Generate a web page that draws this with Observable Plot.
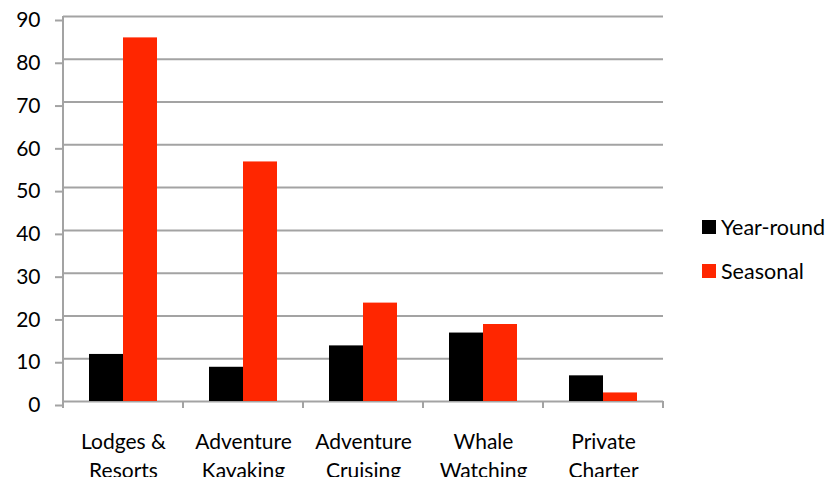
<!DOCTYPE html>
<html><head><meta charset="utf-8">
<script src="https://cdn.jsdelivr.net/npm/d3@7"></script>
<script src="https://cdn.jsdelivr.net/npm/@observablehq/plot@0.6"></script>
<style>
body{margin:0;background:#fff;font-family:Lato,"Open Sans",sans-serif;}
#wrap{position:relative;width:830px;height:477px;overflow:hidden;}
.legend{position:absolute;left:702px;top:0;font-size:21.5px;color:#000;font-family:Lato,sans-serif}
.legend .item{position:absolute;left:0;display:flex;align-items:center;white-space:nowrap;line-height:24px;height:24px}
.legend .sw{width:14px;height:14px;margin-right:5px;flex:none}
</style></head><body><div id="wrap"></div>
<script>
const categories = ["Lodges & Resorts","Adventure Kayaking","Adventure Cruising","Whale Watching","Private Charter"];
const categoryLabels = ["Lodges &\nResorts","Adventure\nKayaking","Adventure\nCruising","Whale\nWatching","Private\nCharter"];
const seriesNames = ["Year-round","Seasonal"];
const yearRound = [11,8,13,16,6];
const seasonal = [85,56,23,18,2];
const yTicks = [0,10,20,30,40,50,60,70,80,90];
const seriesColors = ["#000000","#ff2600"];

const data = [];
categories.forEach((c,i)=>{
  data.push({category:c, series:seriesNames[0], value:yearRound[i]});
  data.push({category:c, series:seriesNames[1], value:seasonal[i]});
});
const labelOf = new Map(categories.map((c,i)=>[c,categoryLabels[i]]));
const gridColor = "#a3a3a3";

const chart = Plot.plot({
  width: 830, height: 477,
  marginLeft: 61, marginRight: 166, marginTop: 16, marginBottom: 76,
  style: {fontFamily: "Lato, sans-serif", background: "#fff", overflow: "hidden"},
  fx: {domain: categories, padding: 0, axis: null, label: null},
  x: {domain: seriesNames, paddingInner: 0, paddingOuter: 0.75, axis: null, label: null},
  y: {domain: [0, 90], axis: null, label: null},
  color: {domain: seriesNames, range: seriesColors},
  marks: [
    Plot.gridY({ticks: yTicks, stroke: gridColor, strokeOpacity: 1, strokeWidth: 2}),
    Plot.barY(data, {fx: "category", x: "series", y: "value", fill: "series", inset: 0}),
    Plot.axisY({ticks: yTicks, label: null, tickSize: 8, tickPadding: 15, stroke: gridColor, strokeWidth: 2, fill: "#000", fontSize: 21, dy: 4}),
    Plot.axisFx({domain: categories, label: null, anchor: "bottom", tickSize: 0, tickPadding: 27, fontSize: 21, fill: "#000", lineHeight: 1.37, tickFormat: d => labelOf.get(d)})
  ]
});

// axis line and band-boundary ticks drawn from Plot's own scales
const fx = chart.scale("fx"), ys = chart.scale("y");
const g = d3.select(chart).append("g").attr("stroke", gridColor).attr("stroke-width", 2);
const y0 = ys.apply(0), yTop = ys.apply(90);
const bounds = categories.map(c => fx.apply(c));
bounds.push(fx.apply(categories[categories.length-1]) + fx.bandwidth);
g.append("line").attr("x1", bounds[0]).attr("x2", bounds[0]).attr("y1", yTop).attr("y2", y0 + 7);
bounds.forEach(b => g.append("line").attr("x1", b).attr("x2", b).attr("y1", y0).attr("y2", y0 + 7));

const wrap = document.getElementById("wrap");
wrap.appendChild(chart);
const legend = document.createElement("div");
legend.className = "legend";
const legendTops = [215, 259];
seriesNames.forEach((s,i)=>{
  const it = document.createElement("div");
  it.className = "item"; it.style.top = legendTops[i] + "px";
  const sw = document.createElement("span"); sw.className = "sw"; sw.style.background = seriesColors[i];
  const tx = document.createElement("span"); tx.textContent = s;
  it.appendChild(sw); it.appendChild(tx); legend.appendChild(it);
});
wrap.appendChild(legend);
</script></body></html>
